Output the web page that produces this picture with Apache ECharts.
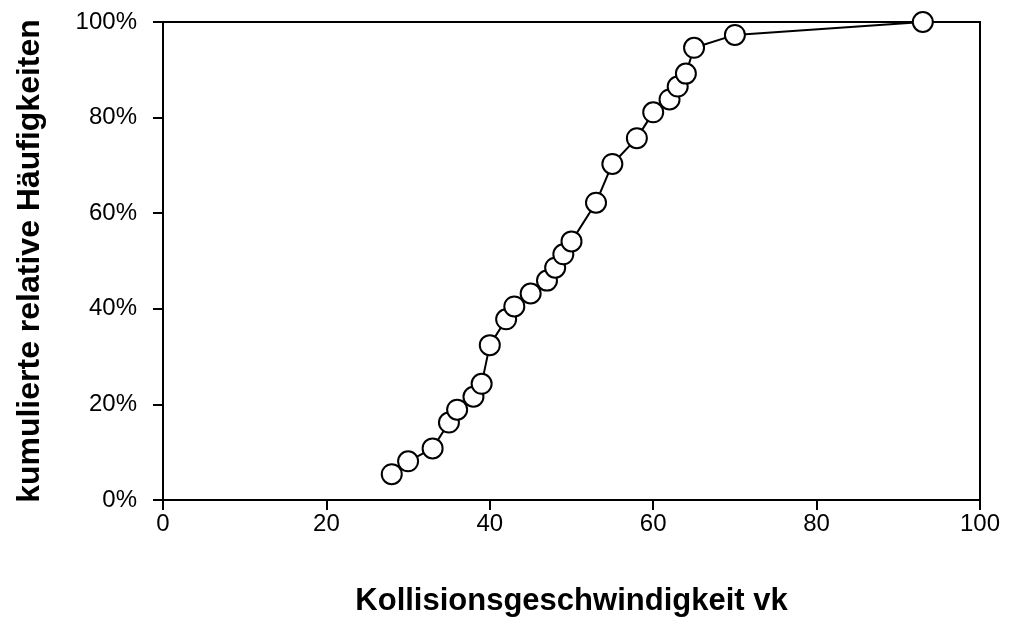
<!DOCTYPE html>
<html>
<head>
<meta charset="utf-8">
<script src="https://cdn.jsdelivr.net/npm/echarts@6/dist/echarts.min.js"></script>
<style>html,body{margin:0;padding:0;background:#fff}#c{width:1011px;height:619px}</style>
</head>
<body>
<div id="c"></div>
<script>
// Data
const speeds = [28, 30, 33, 35, 36, 38, 39, 40, 42, 43, 45, 47, 48, 49, 50, 53, 55, 58, 60, 62, 63, 64, 65, 70, 93];
const cumPercent = [5.4, 8.1, 10.8, 16.2, 18.9, 21.6, 24.3, 32.4, 37.8, 40.5, 43.2, 45.9, 48.6, 51.4, 54.1, 62.2, 70.3, 75.7, 81.1, 83.8, 86.5, 89.2, 94.6, 97.3, 100];
const xTicks = [0, 20, 40, 60, 80, 100];
const yTicks = [0, 20, 40, 60, 80, 100];
const xTitle = 'Kollisionsgeschwindigkeit vk';
const yTitle = 'kumulierte relative Häufigkeiten';

const points = speeds.map((s, i) => [s, cumPercent[i]]);
const font = 'Liberation Sans, Arial, sans-serif';

const chart = echarts.init(document.getElementById('c'));
chart.setOption({
  animation: false,
  backgroundColor: '#fff',
  grid: {
    left: 163, right: 31, top: 22, bottom: 119,
    containLabel: false, outerBoundsMode: 'none',
    show: true, borderColor: '#000', borderWidth: 2, backgroundColor: 'transparent'
  },
  xAxis: {
    type: 'value', min: xTicks[0], max: xTicks[xTicks.length - 1], interval: 20,
    name: xTitle, nameLocation: 'middle', nameGap: 86,
    nameTextStyle: { fontFamily: font, fontSize: 31, fontWeight: 'bold', color: '#000' },
    axisLine: { lineStyle: { color: '#000', width: 2 } },
    axisTick: { show: true, inside: false, length: 10, lineStyle: { color: '#000', width: 2 } },
    axisLabel: { fontFamily: font, fontSize: 24, color: '#000', margin: 12 },
    splitLine: { show: false }
  },
  yAxis: {
    type: 'value', min: yTicks[0], max: yTicks[yTicks.length - 1], interval: 20,
    name: yTitle, nameLocation: 'middle', nameGap: 117,
    nameTextStyle: { fontFamily: font, fontSize: 32, fontWeight: 'bold', color: '#000' },
    axisLine: { show: true, lineStyle: { color: '#000', width: 2 } },
    axisTick: { show: true, inside: false, length: 10, lineStyle: { color: '#000', width: 2 } },
    axisLabel: { fontFamily: font, fontSize: 24, color: '#000', margin: 26, formatter: v => v + '%' },
    splitLine: { show: false }
  },
  series: [{
    type: 'line',
    data: points,
    symbol: 'circle',
    symbolSize: 20,
    showAllSymbol: true,
    clip: false,
    lineStyle: { color: '#000', width: 2 },
    itemStyle: { color: '#fff', borderColor: '#000', borderWidth: 2 },
    z: 3
  }]
});
</script>
</body>
</html>
